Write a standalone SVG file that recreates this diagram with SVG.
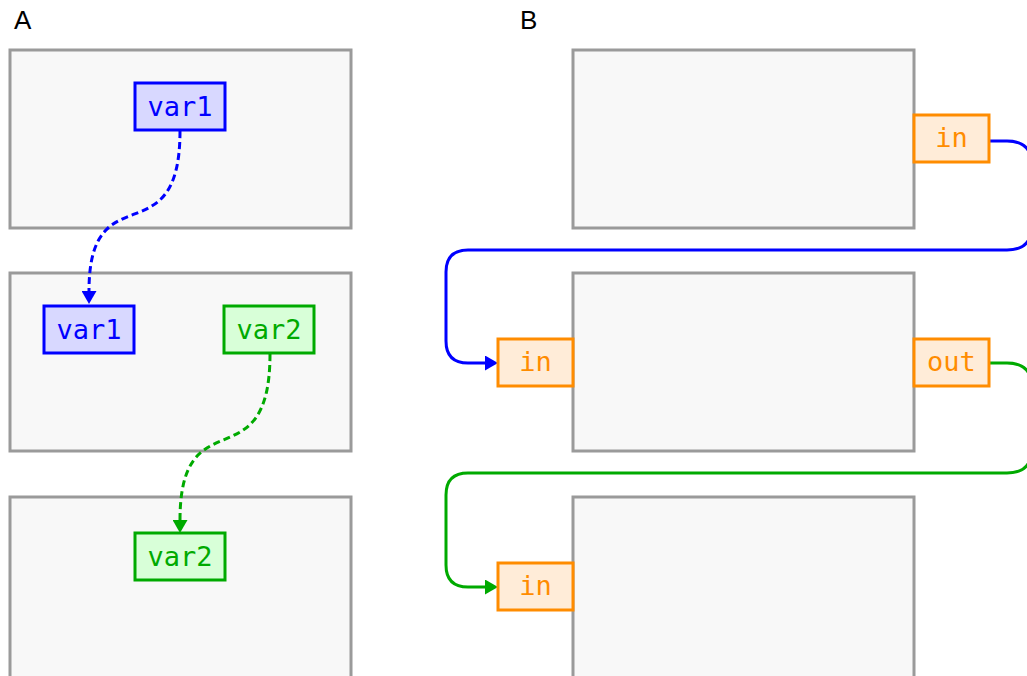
<svg xmlns="http://www.w3.org/2000/svg" width="1027" height="676" viewBox="0 0 1027 676">
<defs>
<style>
.frame{fill:#f8f8f8;stroke:#9a9a9a;stroke-width:3}
.blue rect{fill:#d8d8ff;stroke:#0000ff;stroke-width:3}
.blue text{fill:#0000ff}
.green rect{fill:#d8ffd8;stroke:#00aa00;stroke-width:3}
.green text{fill:#00aa00}
.port rect{fill:#ffecd8;stroke:#ff8c00;stroke-width:3}
.port text{fill:#ff8c00}
text.mono{font-family:"DejaVu Sans Mono","Liberation Mono",monospace;font-size:27px;text-anchor:middle}
.lbl{font-family:"Liberation Sans",Arial,sans-serif;font-size:26px;fill:#000}
.conn{fill:none;stroke-width:3}
.dash{stroke-dasharray:7,4}
</style>
<marker id="ab" viewBox="0 0 13 15" refX="0" refY="7.5" markerWidth="13" markerHeight="15" markerUnits="userSpaceOnUse" orient="auto"><path d="M0,0 L13,7.5 L0,15 Z" fill="#0000ff"/></marker>
<marker id="ag" viewBox="0 0 13 15" refX="0" refY="7.5" markerWidth="13" markerHeight="15" markerUnits="userSpaceOnUse" orient="auto"><path d="M0,0 L13,7.5 L0,15 Z" fill="#00aa00"/></marker>
</defs>
<text class="lbl" x="14" y="29">A</text>
<text class="lbl" x="520" y="29">B</text>
<g id="frameA1"><rect class="frame" x="10" y="50" width="341" height="178"/></g>
<g id="frameA2"><rect class="frame" x="10" y="273" width="341" height="178"/></g>
<g id="frameA3"><rect class="frame" x="10" y="497" width="341" height="190"/></g>
<g id="frameB1"><rect class="frame" x="573" y="50" width="341" height="178"/></g>
<g id="frameB2"><rect class="frame" x="573" y="273" width="341" height="178"/></g>
<g id="frameB3"><rect class="frame" x="573" y="497" width="341" height="190"/></g>
<g id="connectors">
<path class="conn dash" stroke="#0000ff" d="M180,131 C180,260 89,170 89,291" marker-end="url(#ab)"/>
<path class="conn dash" stroke="#00aa00" d="M270,354 C270,485 180,395 180,520" marker-end="url(#ag)"/>
<path class="conn" stroke="#0000ff" d="M989,141 L1007,141 Q1032,141 1032,166 L1032,225 Q1032,250 1007,250 L468,250 Q446,250 446,272 L446,341 Q446,363 468,363 L485,363" marker-end="url(#ab)"/>
<path class="conn" stroke="#00aa00" d="M989,363 L1007,363 Q1032,363 1032,388 L1032,448 Q1032,473 1007,473 L468,473 Q446,473 446,495 L446,565 Q446,587 468,587 L485,587" marker-end="url(#ag)"/>
</g>
<g id="nodeA1var1" class="blue"><rect x="135" y="83" width="90" height="47"/><text class="mono" x="180" y="116">var1</text></g>
<g id="nodeA2var1" class="blue"><rect x="44" y="306" width="90" height="47"/><text class="mono" x="89" y="339">var1</text></g>
<g id="nodeA2var2" class="green"><rect x="224" y="306" width="90" height="47"/><text class="mono" x="269" y="339">var2</text></g>
<g id="nodeA3var2" class="green"><rect x="135" y="533" width="90" height="47"/><text class="mono" x="180" y="566">var2</text></g>
<g id="portB1in" class="port"><rect x="914" y="115" width="75" height="47"/><text class="mono" x="951.5" y="147">in</text></g>
<g id="portB2in" class="port"><rect x="498" y="339" width="75" height="47"/><text class="mono" x="535.5" y="371">in</text></g>
<g id="portB2out" class="port"><rect x="914" y="339" width="75" height="47"/><text class="mono" x="951.5" y="371">out</text></g>
<g id="portB3in" class="port"><rect x="498" y="563" width="75" height="47"/><text class="mono" x="535.5" y="595">in</text></g>
</svg>
